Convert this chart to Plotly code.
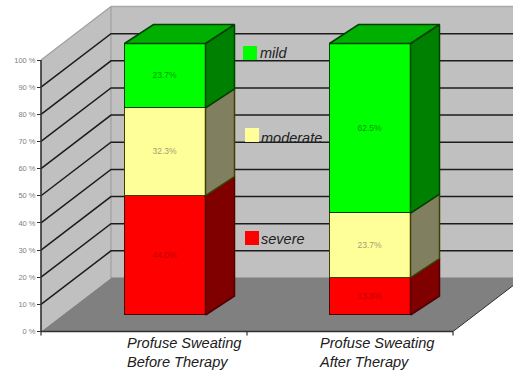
import plotly.graph_objects as go

# Chart data (percent of patients per severity)
categories = ["Profuse Sweating<br>Before Therapy", "Profuse Sweating<br>After Therapy"]
severe = [44.0, 13.8]
moderate = [32.3, 23.7]
mild = [23.7, 62.5]
y_ticks = list(range(0, 101, 10))

series = [
    ("severe", severe, "#ff0000", "#800000", "#500000", "#c80000"),
    ("moderate", moderate, "#ffff99", "#808060", "#404000", "#a8a860"),
    ("mild", mild, "#00ff00", "#008000", "#004000", "#00b000"),
]

W, H = 513, 371
UNIT = 2.715              # pixels per percentage point
FRONT_BASE = 331.5        # baseline of the axis plane
BAR_BASE = 315.0          # baseline of the bar plane
X0 = 41                   # axis plane left edge
X_END = 453               # axis plane right edge
WALL_DX = 70              # oblique offset to the back wall
WALL_DV = 53.5 / UNIT
BAR_DX = 29               # oblique depth of a bar
BAR_DV = 19 / UNIT
BAR_WIDTH = 81
BAR_LEFT = [124.5, 329.5]
BAR_CENTRES = [x + BAR_WIDTH / 2 for x in BAR_LEFT]

fig = go.Figure()


def poly(xs, ys, fill, line=None, width=1.0, axis="y", mode="lines"):
    """Filled polygon or polyline in the chart's oblique projection."""
    fig.add_trace(go.Scatter(
        x=xs, y=ys, mode=mode, yaxis=axis, hoverinfo="skip", showlegend=False,
        fill="toself" if fill else None, fillcolor=fill,
        line=dict(color=line or "rgba(0,0,0,0)", width=width),
    ))


# Floor, back wall and side wall
right_edge = W + 10
poly([X0 + WALL_DX, right_edge, right_edge, X0 + WALL_DX],
     [WALL_DV, WALL_DV, 100 + WALL_DV, 100 + WALL_DV], "#c0c0c0")
poly([X0, X0 + WALL_DX, X0 + WALL_DX, X0],
     [0, WALL_DV, 100 + WALL_DV, 100], "#c0c0c0")
poly([X0, X_END, X_END + WALL_DX, X0 + WALL_DX],
     [0, 0, WALL_DV, WALL_DV], "#808080")

# Wall outlines
poly([X0, X0 + WALL_DX, X0 + WALL_DX], [100, 100 + WALL_DV, WALL_DV], None, "#a0a0a0", 1.2)
poly([X0 + WALL_DX, right_edge], [100 + WALL_DV, 100 + WALL_DV], None, "#a8a8a8", 1.6)
poly([X0 + WALL_DX, right_edge], [WALL_DV, WALL_DV], None, "#808080", 1)

# Gridlines across the side wall and the back wall
for t in y_ticks[1:-1]:
    poly([X0, X0 + WALL_DX, right_edge], [t, t + WALL_DV, t + WALL_DV], None, "#1c1c1c", 1.5)

# Axis lines with the category ticks
poly([X0, X0], [0, 100], None, "#303030", 1.6)
poly([X0, X_END], [0, 0], None, "#303030", 1.6)
poly([X_END, X_END + WALL_DX], [0, WALL_DV], None, "#303030", 1)
for tx in (X0, 247, X_END):
    poly([tx, tx], [0, -1.5], None, "#303030", 1.2)

# Front faces of the stacked bars, plotted on the bar plane
label_colours = {"severe": "#c00000", "moderate": "#a0a070", "mild": "#00a000"}
for name, values, face, _, edge, _ in series:
    fig.add_trace(go.Bar(
        x=BAR_CENTRES, y=values, width=BAR_WIDTH, yaxis="y2", name=name,
        marker=dict(color=face, line=dict(color=edge, width=1.5)),
        text=[f"{v:.1f}%" for v in values], textposition="inside",
        insidetextanchor="middle", textangle=0, constraintext="none",
        textfont=dict(family="Liberation Sans", size=8.5, color=label_colours[name]),
        hoverinfo="skip", showlegend=False,
    ))

# Side and top faces derived from the same stacked values
for b, left in enumerate(BAR_LEFT):
    right = left + BAR_WIDTH
    bottom = 0.0
    for name, values, face, side, edge, top in series:
        upper = bottom + values[b]
        poly([right, right + BAR_DX, right + BAR_DX, right, right],
             [bottom, bottom + BAR_DV, upper + BAR_DV, upper, bottom],
             side, edge, 1.5, axis="y2")
        bottom = upper
    poly([left, right, right + BAR_DX, left + BAR_DX, left],
         [bottom, bottom, bottom + BAR_DV, bottom + BAR_DV, bottom],
         "#00b000", "#004000", 1.5, axis="y2")

fig.update_layout(
    width=W, height=H, margin=dict(l=0, r=0, t=0, b=0),
    paper_bgcolor="white", plot_bgcolor="white", barmode="stack", bargap=0,
    showlegend=False, font=dict(family="Liberation Sans"),
    xaxis=dict(range=[0, W], visible=False, fixedrange=True),
    yaxis=dict(
        range=[(FRONT_BASE - H) / UNIT, FRONT_BASE / UNIT],
        anchor="free", position=X0 / W, showgrid=False, zeroline=False, showline=False,
        tickmode="array", tickvals=y_ticks, ticktext=[f"{t} %" for t in y_ticks],
        ticks="outside", ticklen=4, tickcolor="#303030", tickwidth=1,
        tickfont=dict(family="Liberation Sans", size=7.5, color="#808080"),
    ),
    yaxis2=dict(
        range=[(BAR_BASE - H) / UNIT, BAR_BASE / UNIT],
        overlaying="y", visible=False,
    ),
)

# Legend keys placed between the two bars
legend_keys = [
    ("mild", "#00ff00", 243, 46, 258, 53),
    ("moderate", "#ffff99", 245, 128, 259, 138),
    ("severe", "#ff0000", 245, 231, 259, 239),
]
for label, colour, kx, ky, tx, ty in legend_keys:
    fig.add_shape(type="rect", xref="paper", yref="paper",
                  x0=kx / W, x1=(kx + 14) / W, y0=1 - ky / H, y1=1 - (ky + 14) / H,
                  fillcolor=colour, line_width=0)
    fig.add_annotation(xref="paper", yref="paper", x=tx / W, y=1 - ty / H,
                       text=f"<i>{label}</i>", showarrow=False, xanchor="left", yanchor="middle",
                       font=dict(family="Liberation Sans", size=14.5, color="#202020"))

# Category captions, left aligned below the bars
for label, x in zip(categories, (125, 317)):
    fig.add_annotation(xref="paper", yref="paper", x=x / W, y=1 - 352 / H,
                       text=f"<i>{label}</i>", showarrow=False, xanchor="left", yanchor="middle",
                       align="left",
                       font=dict(family="Liberation Sans", size=14.6, color="#202020"))

fig.write_html("out.html")
